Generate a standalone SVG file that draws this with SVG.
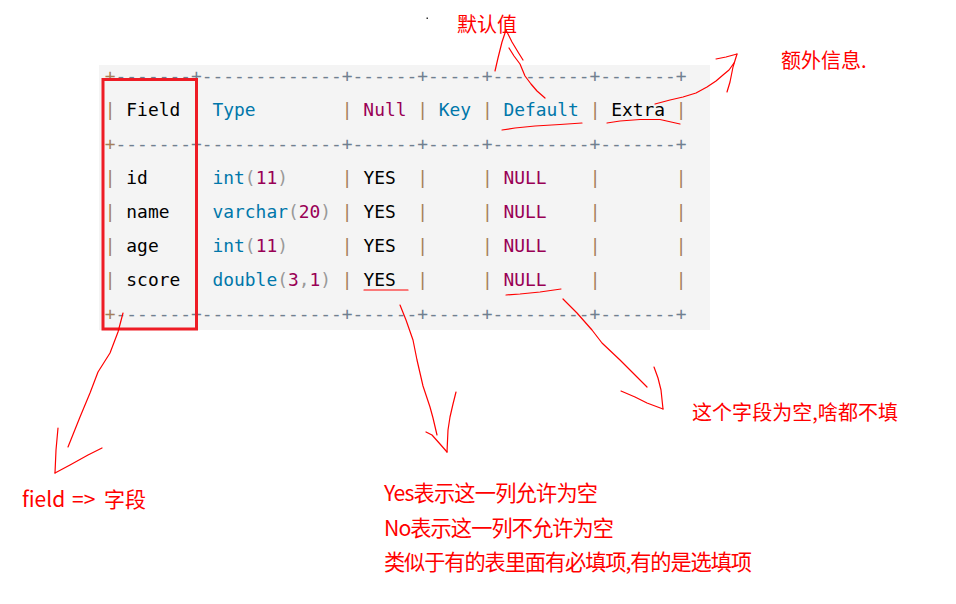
<svg xmlns="http://www.w3.org/2000/svg" width="956" height="604" viewBox="0 0 956 604">
<style>
.m{font-family:"DejaVu Sans Mono","Liberation Mono",monospace;font-size:17.9px;fill:#000;white-space:pre}
.d{fill:#708090}
.p{fill:#a67f59}
.k{fill:#0077aa}
.n{fill:#990055}
.g{fill:#999999}
.a{font-family:"Noto Sans CJK SC","Noto Sans",sans-serif;fill:#ff0000}
.ln{fill:none;stroke:#ff0000;stroke-width:1.2;stroke-linejoin:round;stroke-linecap:round}
</style>
<rect width="956" height="604" fill="#ffffff"/>
<g id="table">
<rect x="99" y="65" width="611" height="265" fill="#f4f4f4"/>
<text class="m d" x="104.8" y="81.5" xml:space="preserve"><tspan class="p">+</tspan>-------+-------------+------+-----+---------+-------+</text>
<text class="m" x="104.8" y="116" xml:space="preserve"><tspan class="p">|</tspan> Field   <tspan class="k">Type</tspan>        <tspan class="p">|</tspan> <tspan class="n">Null</tspan> <tspan class="p">|</tspan> <tspan class="k">Key</tspan> <tspan class="p">|</tspan> <tspan class="k">Default</tspan> <tspan class="p">|</tspan> Extra <tspan class="p">|</tspan></text>
<text class="m d" x="104.8" y="149.5" xml:space="preserve"><tspan class="p">+</tspan>-------+-------------+------+-----+---------+-------+</text>
<text class="m" x="104.8" y="184" xml:space="preserve"><tspan class="p">|</tspan> id      <tspan class="k">int</tspan><tspan class="g">(</tspan><tspan class="n">11</tspan><tspan class="g">)</tspan>     <tspan class="p">|</tspan> YES  <tspan class="p">|</tspan>     <tspan class="p">|</tspan> <tspan class="n">NULL</tspan>    <tspan class="p">|</tspan>       <tspan class="p">|</tspan></text>
<text class="m" x="104.8" y="218" xml:space="preserve"><tspan class="p">|</tspan> name    <tspan class="k">varchar</tspan><tspan class="g">(</tspan><tspan class="n">20</tspan><tspan class="g">)</tspan> <tspan class="p">|</tspan> YES  <tspan class="p">|</tspan>     <tspan class="p">|</tspan> <tspan class="n">NULL</tspan>    <tspan class="p">|</tspan>       <tspan class="p">|</tspan></text>
<text class="m" x="104.8" y="252" xml:space="preserve"><tspan class="p">|</tspan> age     <tspan class="k">int</tspan><tspan class="g">(</tspan><tspan class="n">11</tspan><tspan class="g">)</tspan>     <tspan class="p">|</tspan> YES  <tspan class="p">|</tspan>     <tspan class="p">|</tspan> <tspan class="n">NULL</tspan>    <tspan class="p">|</tspan>       <tspan class="p">|</tspan></text>
<text class="m" x="104.8" y="286" xml:space="preserve"><tspan class="p">|</tspan> score   <tspan class="k">double</tspan><tspan class="g">(</tspan><tspan class="n">3</tspan><tspan class="g">,</tspan><tspan class="n">1</tspan><tspan class="g">)</tspan> <tspan class="p">|</tspan> YES  <tspan class="p">|</tspan>     <tspan class="p">|</tspan> <tspan class="n">NULL</tspan>    <tspan class="p">|</tspan>       <tspan class="p">|</tspan></text>
<text class="m d" x="104.8" y="320" xml:space="preserve"><tspan class="p">+</tspan>-------+-------------+------+-----+---------+-------+</text>
</g>
<g id="field-box">
<rect x="103" y="79.5" width="93.5" height="249.5" fill="none" stroke="#ee1c25" stroke-width="3"/>
</g>
<g id="label-default">
<text class="a" x="457" y="32" font-size="20">默认值</text>
</g>
<g id="label-extra">
<text class="a" x="781" y="67.5" font-size="20">额外信息.</text>
</g>
<g id="label-field">
<text class="a" y="507" font-size="21" xml:space="preserve"><tspan x="22">field </tspan><tspan x="72">=&gt; </tspan><tspan x="104">字段</tspan></text>
</g>
<g id="label-null">
<text class="a" x="692" y="420" font-size="20" textLength="206" lengthAdjust="spacing">这个字段为空,啥都不填</text>
</g>
<g id="label-yesno">
<text class="a" x="384" y="500.5" font-size="21.2" textLength="214" lengthAdjust="spacing">Yes表示这一列允许为空</text>
<text class="a" x="384" y="535.5" font-size="21.2" textLength="230" lengthAdjust="spacing">No表示这一列不允许为空</text>
<text class="a" x="384" y="570" font-size="21.2" textLength="368" lengthAdjust="spacing">类似于有的表里面有必填项,有的是选填项</text>
</g>
<g id="connectors">
<rect x="426.5" y="17.5" width="1.5" height="1.5" fill="#333333"/>
<polyline class="ln" points="495,71 498,58 502,42 506,30"/>
<polyline class="ln" points="506,30 512,42 518,52 523,60"/>
<polyline class="ln" points="509,48 514,56 520,64 525,76 531,84 537,91 545,98"/>
<polyline class="ln" points="502,130 515,128 535,126 560,124.5 582,123"/>
<polyline class="ln" points="607,123 620,121 640,119.5 660,119.5 680,124"/>
<polyline class="ln" points="655,104 670,100 683,97 696,93 707,87 716,81 723,75 729,70 734,63"/>
<polyline class="ln" points="716,59 726,57 737,54"/>
<polyline class="ln" points="737,54 733,67 730,82 727,92"/>
<polyline class="ln" points="364,290 408,290"/>
<polyline class="ln" points="506,295 520,294 540,292 561,289"/>
<polyline class="ln" points="400,305 406,320 413,340 417,360 423,386 430,407 433,418 437,435"/>
<polyline class="ln" points="426,432 432,435 440,444 447,452"/>
<polyline class="ln" points="456,392 453,404 450,417 448,430 447,452"/>
<polyline class="ln" points="563,299 577,313 592,330 602,343 620,360 637,377 647,387"/>
<polyline class="ln" points="621,391 635,397 647,403 663,409"/>
<polyline class="ln" points="654,367 658,378 661,390 663,409"/>
<polyline class="ln" points="123,313 118,332 110,353 98,372 90,393 80,417 68,447"/>
<polyline class="ln" points="58,428 56,450 55,473"/>
<polyline class="ln" points="102,448 88,455 70,465 55,473"/>
</g>
</svg>
